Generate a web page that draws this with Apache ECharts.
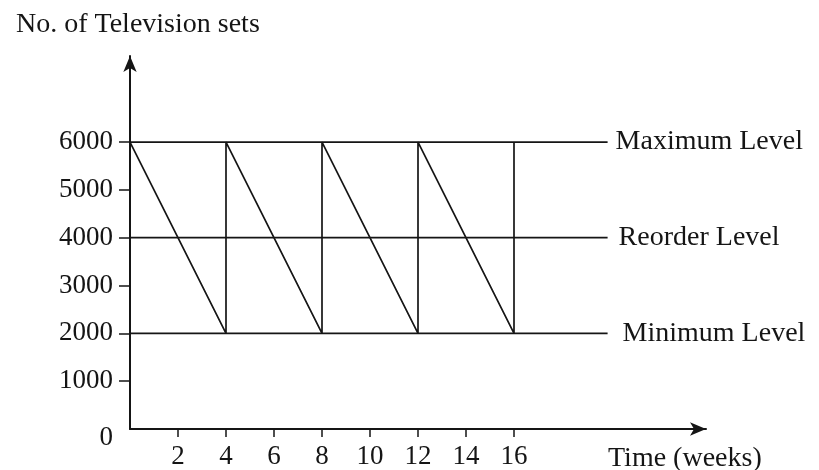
<!DOCTYPE html>
<html>
<head>
<meta charset="utf-8">
<script src="https://cdn.jsdelivr.net/npm/echarts@6/dist/echarts.min.js"></script>
<style>
  html, body { margin: 0; padding: 0; background: #fff; }
  #chart { width: 819px; height: 470px; }
</style>
</head>
<body>
<div id="chart"></div>
<script>
// stock level (sawtooth), [week, sets]
var stockWeeks = [0, 4, 4, 8, 8, 12, 12, 16, 16];
var stockSets = [6000, 2000, 6000, 2000, 6000, 2000, 6000, 2000, 6000];

// reference levels
var levelNames = ['Maximum Level', 'Reorder Level', 'Minimum Level'];
var levelValues = [6000, 4000, 2000];
var levelEnd = 19.9; // weeks, where the level lines stop
var levelGap = [8, 11, 15];

var xTicks = [2, 4, 6, 8, 10, 12, 14, 16];
var yTicks = [1000, 2000, 3000, 4000, 5000, 6000];
var yLabels = [0, 1000, 2000, 3000, 4000, 5000, 6000];

var font = '"Liberation Serif", "DejaVu Serif", serif';
var ink = '#151515';

var series = [];
levelNames.forEach(function (name, i) {
  series.push({
    name: name,
    type: 'line',
    data: [[0, levelValues[i]], [levelEnd, levelValues[i]]],
    symbol: 'none',
    lineStyle: { color: ink, width: 1.7 },
    endLabel: {
      show: true,
      formatter: name,
      distance: levelGap[i],
      color: ink,
      fontFamily: font,
      fontSize: 28
    },
    silent: true
  });
});
series.push({
  name: 'Stock',
  type: 'line',
  data: stockWeeks.map(function (w, i) { return [w, stockSets[i]]; }),
  symbol: 'none',
  lineStyle: { color: ink, width: 1.7 },
  silent: true
});

var option = {
  backgroundColor: '#fff',
  animation: false,
  title: [
    { text: 'No. of Television sets', left: 11, top: 6,
      textStyle: { fontFamily: font, fontSize: 28, fontWeight: 'normal', color: ink } },
    { text: 'Time (weeks)', left: 603, top: 440,
      textStyle: { fontFamily: font, fontSize: 28, fontWeight: 'normal', color: ink } }
  ],
  grid: { left: 130, right: 113, top: 56, bottom: 40 },
  xAxis: {
    type: 'value',
    min: 0,
    max: 24,
    interval: 2,
    splitLine: { show: false },
    axisLine: { lineStyle: { color: ink, width: 2 }, symbol: ['none', 'arrow'], symbolSize: [10, 16] },
    axisTick: { show: true, length: 8, lineStyle: { color: ink, width: 1.5 }, customValues: xTicks },
    axisLabel: { customValues: xTicks, margin: 14, color: ink, fontFamily: font, fontSize: 27 }
  },
  yAxis: {
    type: 'value',
    min: 0,
    max: 7800,
    interval: 1000,
    splitLine: { show: false },
    axisLine: { show: true, lineStyle: { color: ink, width: 2 }, symbol: ['none', 'arrow'], symbolSize: [10, 16] },
    axisTick: { show: true, length: 11, lineStyle: { color: ink, width: 1.5 }, customValues: yTicks },
    axisLabel: {
      customValues: yLabels,
      margin: 17,
      color: ink,
      fontFamily: font,
      fontSize: 27,
      formatter: function (v) { return v === 0 ? '{o|0}' : String(v); },
      rich: { o: { padding: [18, 0, 0, 0], fontFamily: font, fontSize: 27, color: ink } }
    }
  },
  series: series
};

var myChart = echarts.init(document.getElementById('chart'));
myChart.setOption(option);
</script>
</body>
</html>
